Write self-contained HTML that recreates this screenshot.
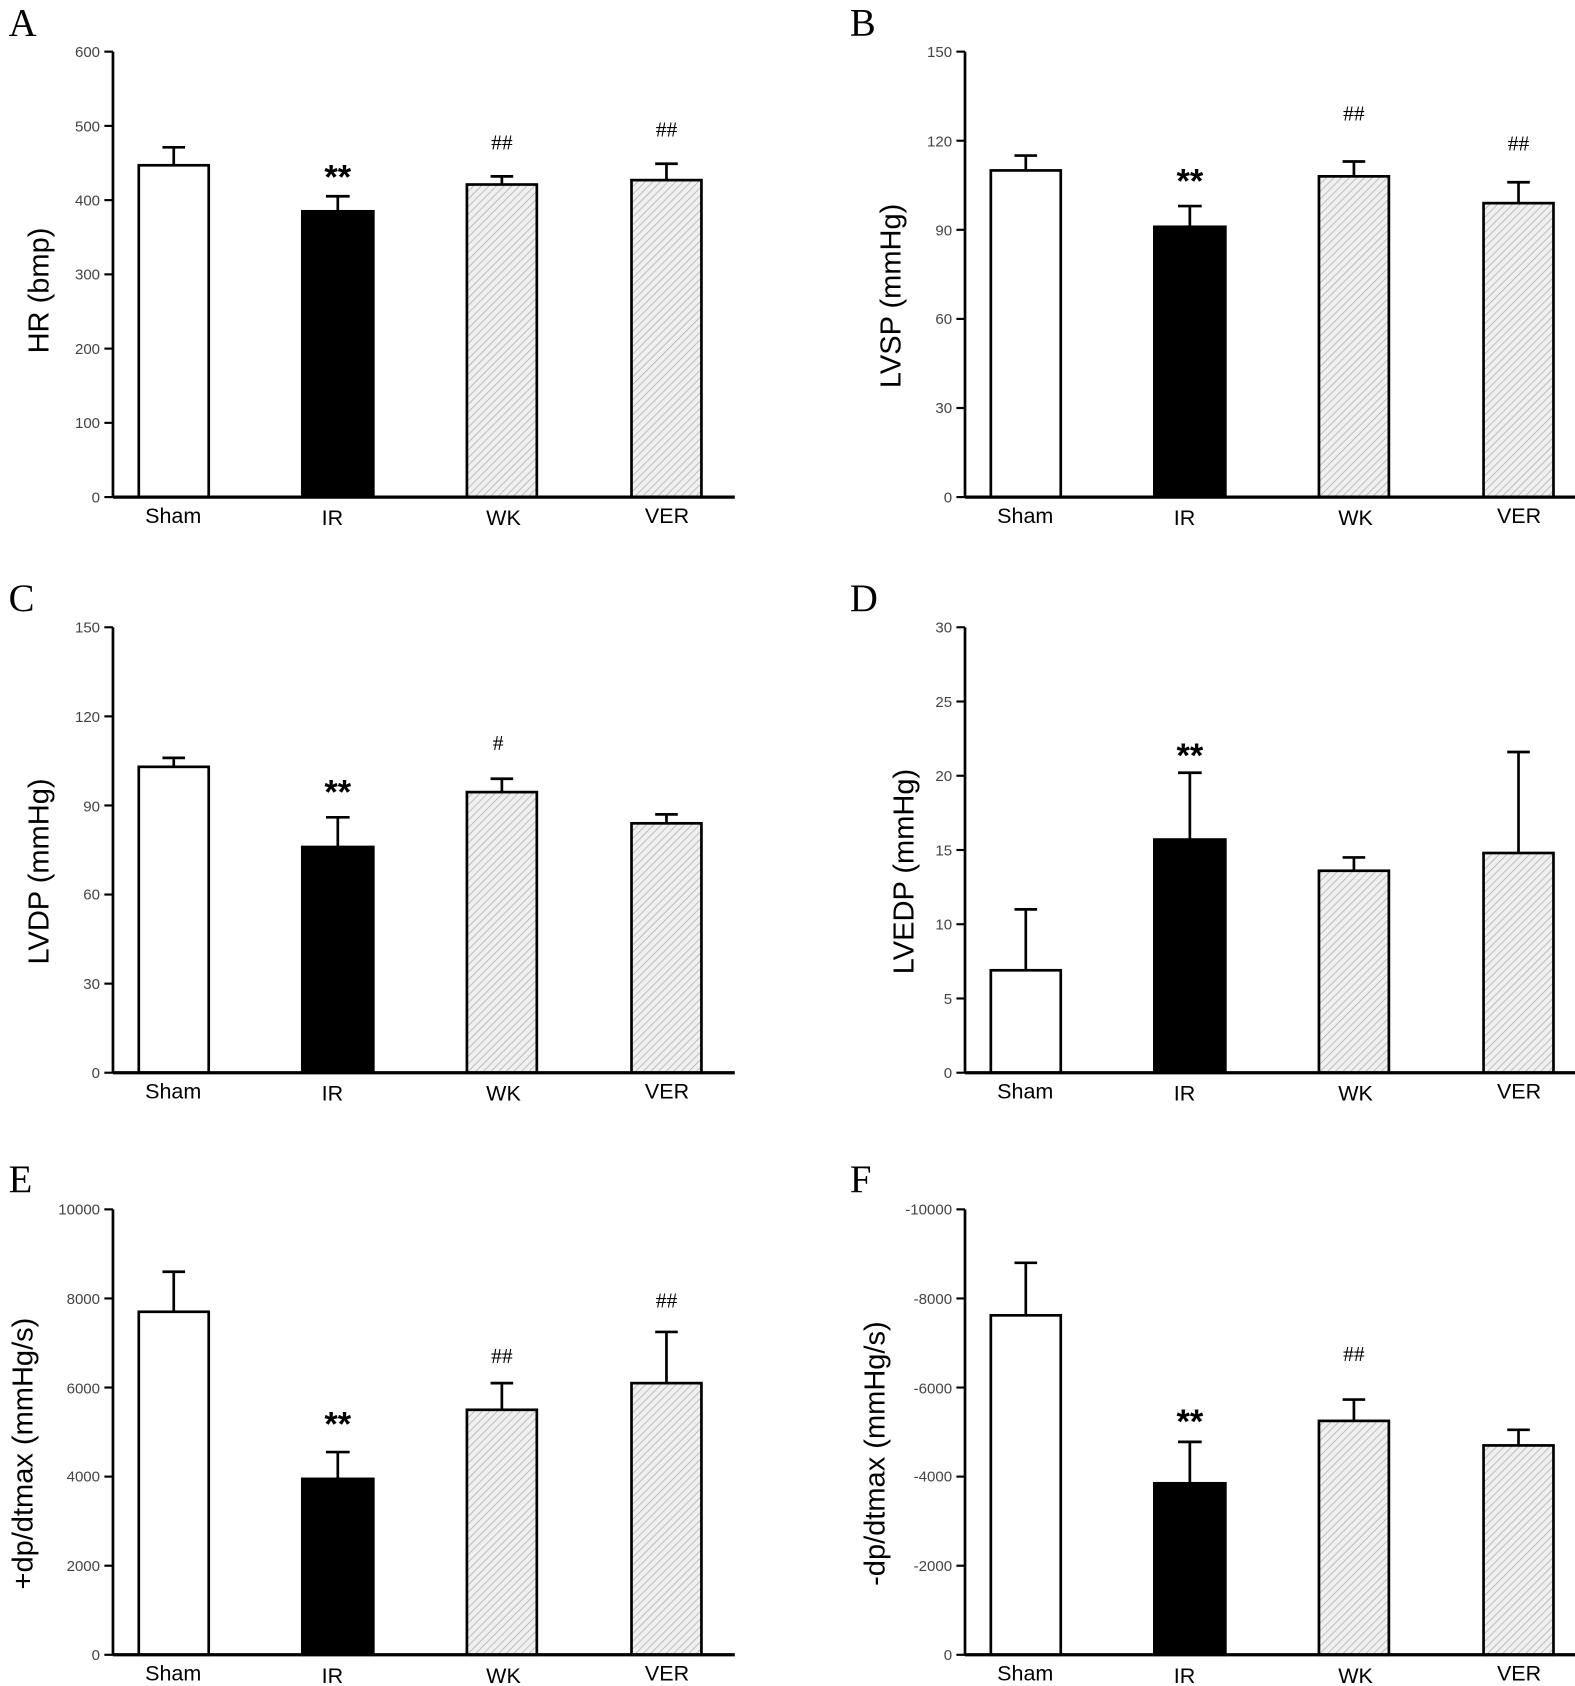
<!DOCTYPE html>
<html><head><meta charset="utf-8"><style>
html,body{margin:0;padding:0;background:#fff}
svg{display:block}
.t{font-family:"Liberation Sans",Arial,sans-serif;font-size:14px;fill:#444;text-anchor:end}
.x{font-family:"Liberation Sans",Arial,sans-serif;font-size:20px;fill:#000;text-anchor:middle}
.yl{font-family:"Liberation Sans",Arial,sans-serif;font-size:27px;fill:#000;text-anchor:middle}
.pl{font-family:"Liberation Serif",serif;font-size:36px;fill:#000}
.st{font-family:"Liberation Sans",Arial,sans-serif;font-size:32px;font-weight:bold;fill:#000;text-anchor:middle}
.hs{font-family:"Liberation Serif",serif;font-size:20px;fill:#000;text-anchor:middle}
</style></head><body>
<svg width="1575" height="1686" viewBox="0 0 1464 1567" preserveAspectRatio="none" xmlns="http://www.w3.org/2000/svg">
<defs>
<pattern id="h" patternUnits="userSpaceOnUse" width="5" height="5" patternTransform="rotate(45)">
<rect width="5" height="5" fill="#f0f0f0"/><line x1="0" y1="0" x2="0" y2="5" stroke="#a8a8a8" stroke-width="1.3"/>
</pattern>
<g id="xl">
<line x1="0" y1="414" x2="578" y2="414" stroke="#000" stroke-width="3"/>
<line x1="0" y1="0" x2="0" y2="414" stroke="#000" stroke-width="2.5"/>
<text class="x" x="56" y="438">Sham</text>
<text class="x" x="204" y="440">IR</text>
<text class="x" x="363" y="440">WK</text>
<text class="x" x="515" y="438">VER</text>
</g>
</defs>

<text class="pl" x="8" y="33">A</text>
<text class="pl" x="790" y="33">B</text>
<text class="pl" x="8" y="568">C</text>
<text class="pl" x="790" y="568">D</text>
<text class="pl" x="8" y="1108">E</text>
<text class="pl" x="790" y="1108">F</text>

<!-- Panel A -->
<g transform="translate(105,48)">
<g stroke="#000" stroke-width="2">
<line x1="-8" y1="0" x2="0" y2="0"/><line x1="-8" y1="69" x2="0" y2="69"/><line x1="-8" y1="138" x2="0" y2="138"/><line x1="-8" y1="207" x2="0" y2="207"/><line x1="-8" y1="276" x2="0" y2="276"/><line x1="-8" y1="345" x2="0" y2="345"/><line x1="-8" y1="414" x2="0" y2="414"/>
</g>
<text class="t" x="-12" y="5">600</text><text class="t" x="-12" y="74">500</text><text class="t" x="-12" y="143">400</text><text class="t" x="-12" y="212">300</text><text class="t" x="-12" y="281">200</text><text class="t" x="-12" y="350">100</text><text class="t" x="-12" y="419">0</text>
<text class="yl" transform="translate(-60,222) rotate(-90)">HR (bmp)</text>
<g stroke="#000" stroke-width="2.5">
<line x1="56.5" y1="105.6" x2="56.5" y2="88.9"/><line x1="46" y1="88.9" x2="67" y2="88.9"/>
<line x1="209" y1="148.4" x2="209" y2="134.4"/><line x1="198" y1="134.4" x2="220" y2="134.4"/>
<line x1="361.5" y1="123.5" x2="361.5" y2="115.9"/><line x1="351" y1="115.9" x2="372" y2="115.9"/>
<line x1="514.5" y1="119.4" x2="514.5" y2="104.2"/><line x1="504" y1="104.2" x2="525" y2="104.2"/>
<rect x="24" y="105.6" width="65" height="308.4" fill="#fff"/>
<rect x="176" y="148.4" width="66" height="265.6" fill="#000"/>
<rect x="329" y="123.5" width="65" height="290.5" fill="url(#h)"/>
<rect x="482" y="119.4" width="65" height="294.6" fill="url(#h)"/>
</g>
<use href="#xl"/>
<text class="st" x="209" y="127">**</text>
<text class="hs" x="361.5" y="91">##</text>
<text class="hs" x="514.5" y="79">##</text>
</g>

<!-- Panel B -->
<g transform="translate(897,48)">
<g stroke="#000" stroke-width="2">
<line x1="-8" y1="0" x2="0" y2="0"/><line x1="-8" y1="82.8" x2="0" y2="82.8"/><line x1="-8" y1="165.6" x2="0" y2="165.6"/><line x1="-8" y1="248.4" x2="0" y2="248.4"/><line x1="-8" y1="331.2" x2="0" y2="331.2"/><line x1="-8" y1="414" x2="0" y2="414"/>
</g>
<text class="t" x="-12" y="5">150</text><text class="t" x="-12" y="88">120</text><text class="t" x="-12" y="171">90</text><text class="t" x="-12" y="253">60</text><text class="t" x="-12" y="336">30</text><text class="t" x="-12" y="419">0</text>
<text class="yl" transform="translate(-60,227) rotate(-90)">LVSP (mmHg)</text>
<g stroke="#000" stroke-width="2.5">
<line x1="56.5" y1="110.4" x2="56.5" y2="96.6"/><line x1="46" y1="96.6" x2="67" y2="96.6"/>
<line x1="209" y1="162.8" x2="209" y2="143.5"/><line x1="198" y1="143.5" x2="220" y2="143.5"/>
<line x1="361.5" y1="115.9" x2="361.5" y2="102.1"/><line x1="351" y1="102.1" x2="372" y2="102.1"/>
<line x1="514.5" y1="140.8" x2="514.5" y2="121.4"/><line x1="504" y1="121.4" x2="525" y2="121.4"/>
<rect x="24" y="110.4" width="65" height="303.6" fill="#fff"/>
<rect x="176" y="162.8" width="66" height="251.2" fill="#000"/>
<rect x="329" y="115.9" width="65" height="298.1" fill="url(#h)"/>
<rect x="482" y="140.8" width="65" height="273.2" fill="url(#h)"/>
</g>
<use href="#xl"/>
<text class="st" x="209" y="131">**</text>
<text class="hs" x="361.5" y="64">##</text>
<text class="hs" x="514.5" y="92">##</text>
</g>

<!-- Panel C -->
<g transform="translate(105,583)">
<g stroke="#000" stroke-width="2">
<line x1="-8" y1="0" x2="0" y2="0"/><line x1="-8" y1="82.8" x2="0" y2="82.8"/><line x1="-8" y1="165.6" x2="0" y2="165.6"/><line x1="-8" y1="248.4" x2="0" y2="248.4"/><line x1="-8" y1="331.2" x2="0" y2="331.2"/><line x1="-8" y1="414" x2="0" y2="414"/>
</g>
<text class="t" x="-12" y="5">150</text><text class="t" x="-12" y="88">120</text><text class="t" x="-12" y="171">90</text><text class="t" x="-12" y="253">60</text><text class="t" x="-12" y="336">30</text><text class="t" x="-12" y="419">0</text>
<text class="yl" transform="translate(-60,227) rotate(-90)">LVDP (mmHg)</text>
<g stroke="#000" stroke-width="2.5">
<line x1="56.5" y1="129.7" x2="56.5" y2="121.4"/><line x1="46" y1="121.4" x2="67" y2="121.4"/>
<line x1="209" y1="204.2" x2="209" y2="176.6"/><line x1="198" y1="176.6" x2="220" y2="176.6"/>
<line x1="361.5" y1="153.2" x2="361.5" y2="140.8"/><line x1="351" y1="140.8" x2="372" y2="140.8"/>
<line x1="514.5" y1="182.2" x2="514.5" y2="173.9"/><line x1="504" y1="173.9" x2="525" y2="173.9"/>
<rect x="24" y="129.7" width="65" height="284.3" fill="#fff"/>
<rect x="176" y="204.2" width="66" height="209.8" fill="#000"/>
<rect x="329" y="153.2" width="65" height="260.8" fill="url(#h)"/>
<rect x="482" y="182.2" width="65" height="231.8" fill="url(#h)"/>
</g>
<use href="#xl"/>
<text class="st" x="209" y="164">**</text>
<text class="hs" x="358" y="114">#</text>
</g>

<!-- Panel D -->
<g transform="translate(897,583)">
<g stroke="#000" stroke-width="2">
<line x1="-8" y1="0" x2="0" y2="0"/><line x1="-8" y1="69" x2="0" y2="69"/><line x1="-8" y1="138" x2="0" y2="138"/><line x1="-8" y1="207" x2="0" y2="207"/><line x1="-8" y1="276" x2="0" y2="276"/><line x1="-8" y1="345" x2="0" y2="345"/><line x1="-8" y1="414" x2="0" y2="414"/>
</g>
<text class="t" x="-12" y="5">30</text><text class="t" x="-12" y="74">25</text><text class="t" x="-12" y="143">20</text><text class="t" x="-12" y="212">15</text><text class="t" x="-12" y="281">10</text><text class="t" x="-12" y="350">5</text><text class="t" x="-12" y="419">0</text>
<text class="yl" transform="translate(-48,227) rotate(-90)">LVEDP (mmHg)</text>
<g stroke="#000" stroke-width="2.5">
<line x1="56.5" y1="318.8" x2="56.5" y2="262.2"/><line x1="46" y1="262.2" x2="67" y2="262.2"/>
<line x1="209" y1="197.3" x2="209" y2="135.2"/><line x1="198" y1="135.2" x2="220" y2="135.2"/>
<line x1="361.5" y1="226.3" x2="361.5" y2="213.9"/><line x1="351" y1="213.9" x2="372" y2="213.9"/>
<line x1="514.5" y1="209.8" x2="514.5" y2="115.9"/><line x1="504" y1="115.9" x2="525" y2="115.9"/>
<rect x="24" y="318.8" width="65" height="95.2" fill="#fff"/>
<rect x="176" y="197.3" width="66" height="216.7" fill="#000"/>
<rect x="329" y="226.3" width="65" height="187.7" fill="url(#h)"/>
<rect x="482" y="209.8" width="65" height="204.2" fill="url(#h)"/>
</g>
<use href="#xl"/>
<text class="st" x="209" y="130">**</text>
</g>

<!-- Panel E -->
<g transform="translate(105,1124)">
<g stroke="#000" stroke-width="2">
<line x1="-8" y1="0" x2="0" y2="0"/><line x1="-8" y1="82.8" x2="0" y2="82.8"/><line x1="-8" y1="165.6" x2="0" y2="165.6"/><line x1="-8" y1="248.4" x2="0" y2="248.4"/><line x1="-8" y1="331.2" x2="0" y2="331.2"/><line x1="-8" y1="414" x2="0" y2="414"/>
</g>
<text class="t" x="-12" y="5">10000</text><text class="t" x="-12" y="88">8000</text><text class="t" x="-12" y="171">6000</text><text class="t" x="-12" y="253">4000</text><text class="t" x="-12" y="336">2000</text><text class="t" x="-12" y="419">0</text>
<text class="yl" transform="translate(-75,227) rotate(-90)">+dp/dtmax (mmHg/s)</text>
<g stroke="#000" stroke-width="2.5">
<line x1="56.5" y1="95.2" x2="56.5" y2="58"/><line x1="46" y1="58" x2="67" y2="58"/>
<line x1="209" y1="250.5" x2="209" y2="225.6"/><line x1="198" y1="225.6" x2="220" y2="225.6"/>
<line x1="361.5" y1="186.3" x2="361.5" y2="161.5"/><line x1="351" y1="161.5" x2="372" y2="161.5"/>
<line x1="514.5" y1="161.5" x2="514.5" y2="113.9"/><line x1="504" y1="113.9" x2="525" y2="113.9"/>
<rect x="24" y="95.2" width="65" height="318.8" fill="#fff"/>
<rect x="176" y="250.5" width="66" height="163.5" fill="#000"/>
<rect x="329" y="186.3" width="65" height="227.7" fill="url(#h)"/>
<rect x="482" y="161.5" width="65" height="252.5" fill="url(#h)"/>
</g>
<use href="#xl"/>
<text class="st" x="209" y="210">**</text>
<text class="hs" x="361.5" y="143">##</text>
<text class="hs" x="514.5" y="91">##</text>
</g>

<!-- Panel F -->
<g transform="translate(897,1124)">
<g stroke="#000" stroke-width="2">
<line x1="-8" y1="0" x2="0" y2="0"/><line x1="-8" y1="82.8" x2="0" y2="82.8"/><line x1="-8" y1="165.6" x2="0" y2="165.6"/><line x1="-8" y1="248.4" x2="0" y2="248.4"/><line x1="-8" y1="331.2" x2="0" y2="331.2"/><line x1="-8" y1="414" x2="0" y2="414"/>
</g>
<text class="t" x="-12" y="5">-10000</text><text class="t" x="-12" y="88">-8000</text><text class="t" x="-12" y="171">-6000</text><text class="t" x="-12" y="253">-4000</text><text class="t" x="-12" y="336">-2000</text><text class="t" x="-12" y="419">0</text>
<text class="yl" transform="translate(-75,227) rotate(-90)">-dp/dtmax (mmHg/s)</text>
<g stroke="#000" stroke-width="2.5">
<line x1="56.5" y1="98.5" x2="56.5" y2="49.7"/><line x1="46" y1="49.7" x2="67" y2="49.7"/>
<line x1="209" y1="254.6" x2="209" y2="216.1"/><line x1="198" y1="216.1" x2="220" y2="216.1"/>
<line x1="361.5" y1="196.6" x2="361.5" y2="176.8"/><line x1="351" y1="176.8" x2="372" y2="176.8"/>
<line x1="514.5" y1="219.4" x2="514.5" y2="204.9"/><line x1="504" y1="204.9" x2="525" y2="204.9"/>
<rect x="24" y="98.5" width="65" height="315.5" fill="#fff"/>
<rect x="176" y="254.6" width="66" height="159.4" fill="#000"/>
<rect x="329" y="196.6" width="65" height="217.4" fill="url(#h)"/>
<rect x="482" y="219.4" width="65" height="194.6" fill="url(#h)"/>
</g>
<use href="#xl"/>
<text class="st" x="209" y="208">**</text>
<text class="hs" x="361.5" y="141">##</text>
</g>
</svg>
</body></html>
